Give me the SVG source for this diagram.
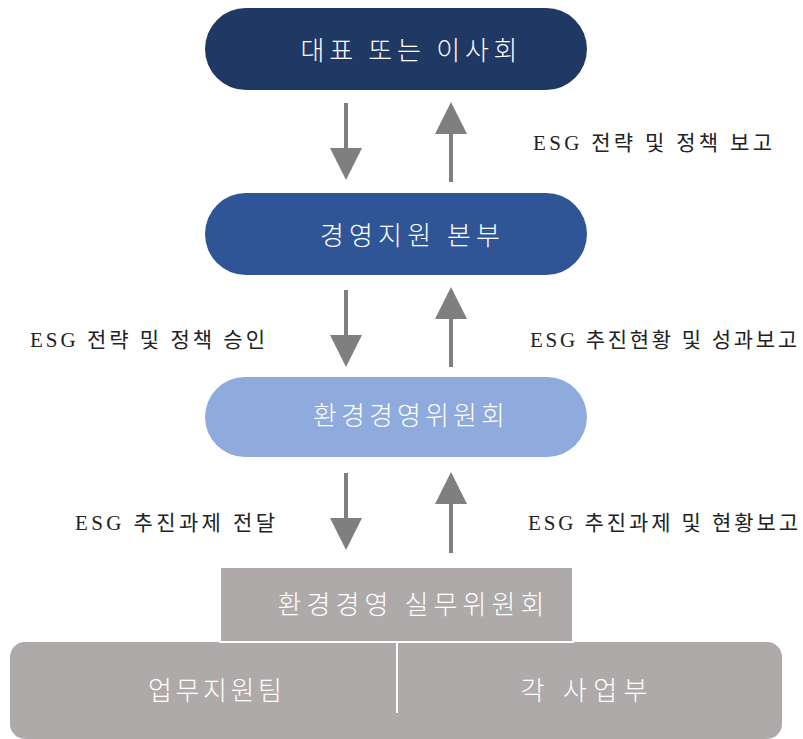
<svg xmlns="http://www.w3.org/2000/svg" width="803" height="739" viewBox="0 0 803 739">
<style>
.nt{font-family:"Noto Sans CJK KR","Noto Sans",sans-serif;font-size:26px;fill:#ffffff;text-anchor:middle;dominant-baseline:central;font-weight:300}
.lb{font-family:"Liberation Serif","Noto Sans CJK KR",serif;font-size:21px;fill:#222222;dominant-baseline:central}
.sh{stroke:#7f7f7f;stroke-width:4}
.hd{fill:#7f7f7f}
</style>
<rect width="803" height="739" fill="#ffffff"/>
<g id="node-top">
<rect x="205" y="8" width="382" height="82" rx="41" fill="#1f3864"/>
<text class="nt" x="409" y="48" textLength="217" lengthAdjust="spacing">대표 또는 이사회</text>
</g>
<g id="node-hq">
<rect x="205" y="193" width="382" height="82" rx="41" fill="#2f5597"/>
<text class="nt" x="410" y="233" textLength="180" lengthAdjust="spacing">경영지원 본부</text>
</g>
<g id="node-committee">
<rect x="205" y="377" width="382" height="80" rx="40" fill="#8faadc"/>
<text class="nt" x="409" y="413" textLength="192" lengthAdjust="spacing">환경경영위원회</text>
</g>
<g id="node-bottom">
<rect x="10" y="642" width="772" height="97" rx="15" fill="#aeaaa9"/>
<line x1="397" y1="642" x2="397" y2="713" stroke="#ffffff" stroke-width="2"/>
<text class="nt" x="215" y="688" textLength="134" lengthAdjust="spacing">업무지원팀</text>
<text class="nt" x="584" y="688" textLength="127" lengthAdjust="spacing">각 사업부</text>
</g>
<g id="node-working">
<rect x="220" y="567" width="353" height="75" fill="#aeaaa9" stroke="#ffffff" stroke-width="2"/>
<text class="nt" x="411" y="602" textLength="267" lengthAdjust="spacing">환경경영 실무위원회</text>
</g>
<g id="connectors">
<line class="sh" x1="346" y1="103" x2="346" y2="150"/>
<polygon class="hd" points="330,148 362,148 346,180"/>
<line class="sh" x1="451" y1="130" x2="451" y2="182"/>
<polygon class="hd" points="435,134 467,134 451,102"/>
<line class="sh" x1="346" y1="290" x2="346" y2="337"/>
<polygon class="hd" points="330,335 362,335 346,367"/>
<line class="sh" x1="451" y1="316" x2="451" y2="367"/>
<polygon class="hd" points="435,319 467,319 451,287"/>
<line class="sh" x1="346" y1="473" x2="346" y2="520"/>
<polygon class="hd" points="330,518 362,518 346,550"/>
<line class="sh" x1="451" y1="500" x2="451" y2="553"/>
<polygon class="hd" points="435,504 467,504 451,472"/>
</g>
<g id="labels">
<text class="lb" x="533" y="143" textLength="239" lengthAdjust="spacing">ESG 전략 및 정책 보고</text>
<text class="lb" x="30" y="340" textLength="235" lengthAdjust="spacing">ESG 전략 및 정책 승인</text>
<text class="lb" x="530" y="340" textLength="267" lengthAdjust="spacing">ESG 추진현황 및 성과보고</text>
<text class="lb" x="75" y="523" textLength="200" lengthAdjust="spacing">ESG 추진과제 전달</text>
<text class="lb" x="528" y="523" textLength="270" lengthAdjust="spacing">ESG 추진과제 및 현황보고</text>
</g>
</svg>
